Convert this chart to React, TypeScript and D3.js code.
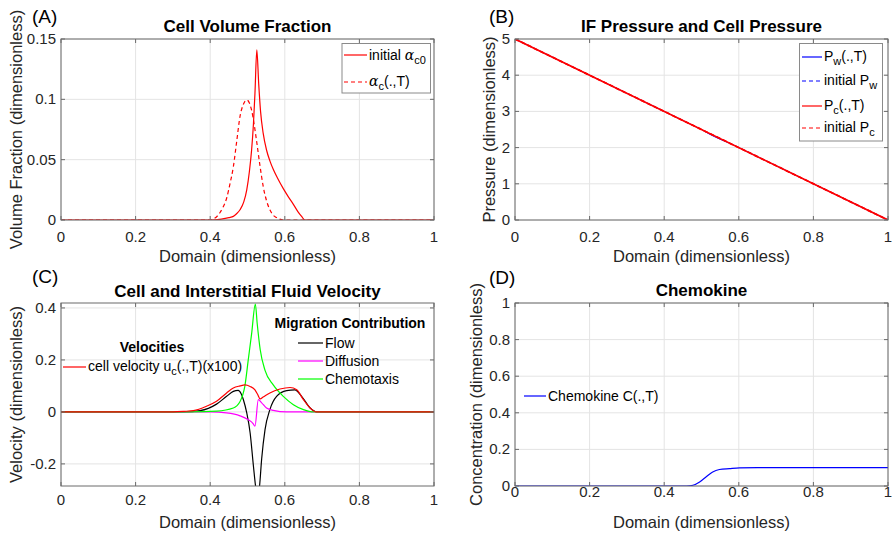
import * as d3 from "d3";
import React from "react";

const FONT = "'Liberation Sans', Arial, Helvetica, sans-serif";

// shared x axis
const xTicks = [0, 0.2, 0.4, 0.6, 0.8, 1];
const xTickLabels = ["0", "0.2", "0.4", "0.6", "0.8", "1"];

// (A) cell volume fraction
const volYTicks = [0, 0.05, 0.1, 0.15];
const volYTickLabels = ["0", "0.05", "0.1", "0.15"];
const alphaInitial: [number, number][] = [
  [0, 0], [0.4, 0], [0.43, 0.0008], [0.45, 0.002], [0.462, 0.003], [0.47, 0.005],
  [0.48, 0.0085], [0.49, 0.015], [0.498, 0.025], [0.505, 0.04], [0.511, 0.058],
  [0.516, 0.08], [0.52, 0.105], [0.525, 0.141], [0.53, 0.113], [0.535, 0.09],
  [0.542, 0.072], [0.551, 0.058], [0.56, 0.049], [0.569, 0.042], [0.58, 0.035],
  [0.596, 0.026], [0.61, 0.019], [0.623, 0.013], [0.635, 0.007], [0.645, 0.003],
  [0.654, 0], [1, 0],
];
const alphaFinal: [number, number][] = [
  [0, 0], [0.4, 0], [0.41, 0.001], [0.426, 0.006], [0.435, 0.011], [0.444, 0.018],
  [0.453, 0.03], [0.462, 0.044], [0.471, 0.065], [0.48, 0.086], [0.489, 0.096],
  [0.498, 0.0995], [0.505, 0.097], [0.511, 0.091], [0.518, 0.079], [0.525, 0.064],
  [0.533, 0.046], [0.542, 0.028], [0.551, 0.016], [0.56, 0.0085], [0.569, 0.004],
  [0.578, 0.002], [0.596, 0], [1, 0],
];

// (B) pressures
const presYTicks = [0, 1, 2, 3, 4, 5];
const presYTickLabels = ["0", "1", "2", "3", "4", "5"];
const pwFinal: [number, number][] = [
  [0, 5], [0.2, 4], [0.4, 3], [0.48, 2.6], [0.5, 2.5], [0.52, 2.38], [0.55, 2.23],
  [0.58, 2.1], [0.6, 2], [0.8, 1], [1, 0],
];
const pwInitial: [number, number][] = [[0, 5], [1, 0]];
const pcFinal: [number, number][] = [[0, 5], [1, 0]];
const pcInitial: [number, number][] = [[0, 5], [1, 0]];

// (C) velocities
const velYTicks = [-0.2, 0, 0.2, 0.4];
const velYTickLabels = ["-0.2", "0", "0.2", "0.4"];
const cellVelocity: [number, number][] = [
  [0, 0], [0.3, 0], [0.33, 0.002], [0.355, 0.005], [0.39, 0.022], [0.417, 0.041],
  [0.444, 0.073], [0.462, 0.092], [0.48, 0.1], [0.493, 0.104], [0.507, 0.098],
  [0.52, 0.085], [0.527, 0.068], [0.534, 0.05], [0.542, 0.057], [0.56, 0.073],
  [0.587, 0.088], [0.614, 0.094], [0.632, 0.085], [0.65, 0.047], [0.668, 0.015],
  [0.685, 0], [1, 0],
];
const flow: [number, number][] = [
  [0, 0], [0.33, 0], [0.373, 0.005], [0.417, 0.03], [0.444, 0.06], [0.462, 0.079],
  [0.475, 0.083], [0.483, 0.07], [0.489, 0.047], [0.498, -0.004], [0.507, -0.08],
  [0.516, -0.21], [0.522, -0.29], [0.527, -0.33], [0.532, -0.29], [0.538, -0.18],
  [0.547, -0.068], [0.56, 0.009], [0.578, 0.06], [0.605, 0.082], [0.627, 0.085],
  [0.645, 0.06], [0.668, 0.015], [0.685, 0], [1, 0],
];
const diffusion: [number, number][] = [
  [0, 0], [0.4, 0], [0.444, -0.004], [0.48, -0.015], [0.502, -0.03], [0.515, -0.045],
  [0.52, -0.055], [0.529, 0.047], [0.538, 0.035], [0.551, 0.015], [0.569, 0.006],
  [0.605, 0], [1, 0],
];
const chemotaxis: [number, number][] = [
  [0, 0], [0.35, 0], [0.417, 0.003], [0.462, 0.015], [0.48, 0.04], [0.493, 0.1],
  [0.502, 0.2], [0.511, 0.3], [0.521, 0.415], [0.526, 0.34], [0.534, 0.24],
  [0.547, 0.16], [0.569, 0.104], [0.596, 0.06], [0.623, 0.028], [0.65, 0.009],
  [0.677, 0], [1, 0],
];

// (D) chemokine
const concYTicks = [0, 0.2, 0.4, 0.6, 0.8, 1];
const concYTickLabels = ["0", "0.2", "0.4", "0.6", "0.8", "1"];
const chemokine: [number, number][] = [
  [0, 0], [0.46, 0], [0.477, 0.004], [0.495, 0.022], [0.512, 0.049], [0.53, 0.077],
  [0.548, 0.09], [0.575, 0.095], [0.602, 0.099], [0.65, 0.1], [1, 0.1],
];

type Series = { data: [number, number][]; color: string; dash?: string; width?: number };

type AxesProps = {
  id: string;
  x0: number; x1: number; y0: number; y1: number;
  yDomain: [number, number];
  yTicks: number[]; yTickLabels: string[];
  series: Series[];
  xTickBaseline: number;
  xLabelBaseline: number;
  yLabel: string; yLabelX: number;
  title: string; titleBaseline: number;
  tag: string; tagX: number; tagBaseline: number;
  children?: React.ReactNode;
};

function Axes(p: AxesProps) {
  const x = d3.scaleLinear().domain([0, 1]).range([p.x0, p.x1]);
  const y = d3.scaleLinear().domain(p.yDomain).range([p.y1, p.y0]);
  const line = d3
    .line<[number, number]>()
    .x((d) => x(d[0]))
    .y((d) => y(d[1]))
    .curve(d3.curveMonotoneX);
  const tl = 4;
  const axisColor = "#6a6a6a";
  const gridColor = "#e4e4e4";
  const textColor = "#262626";
  const midY = (p.y0 + p.y1) / 2;
  return (
    <g fontFamily={FONT}>
      <defs>
        <clipPath id={p.id}>
          <rect x={p.x0} y={p.y0} width={p.x1 - p.x0} height={p.y1 - p.y0} />
        </clipPath>
      </defs>
      {/* grid */}
      {xTicks.map((t, i) => (
        <line key={"gx" + i} x1={x(t)} x2={x(t)} y1={p.y0} y2={p.y1} stroke={gridColor} />
      ))}
      {p.yTicks.map((t, i) => (
        <line key={"gy" + i} x1={p.x0} x2={p.x1} y1={y(t)} y2={y(t)} stroke={gridColor} />
      ))}
      {/* curves */}
      <g clipPath={`url(#${p.id})`}>
        {p.series.map((s, i) => (
          <path
            key={i}
            d={line(s.data) || ""}
            fill="none"
            stroke={s.color}
            strokeWidth={s.width ?? 1.2}
            strokeDasharray={s.dash}
          />
        ))}
      </g>
      {/* box and ticks */}
      <rect x={p.x0} y={p.y0} width={p.x1 - p.x0} height={p.y1 - p.y0} fill="none" stroke={axisColor} />
      {xTicks.map((t, i) => (
        <g key={"tx" + i} stroke={axisColor}>
          <line x1={x(t)} x2={x(t)} y1={p.y1} y2={p.y1 - tl} />
          <line x1={x(t)} x2={x(t)} y1={p.y0} y2={p.y0 + tl} />
        </g>
      ))}
      {p.yTicks.map((t, i) => (
        <g key={"ty" + i} stroke={axisColor}>
          <line x1={p.x0} x2={p.x0 + tl} y1={y(t)} y2={y(t)} />
          <line x1={p.x1} x2={p.x1 - tl} y1={y(t)} y2={y(t)} />
        </g>
      ))}
      {/* tick labels */}
      {xTicks.map((t, i) => (
        <text key={"lx" + i} x={x(t)} y={p.xTickBaseline} fontSize={15} textAnchor="middle" fill={textColor}>
          {xTickLabels[i]}
        </text>
      ))}
      {p.yTicks.map((t, i) => (
        <text key={"ly" + i} x={p.x0 - 5} y={y(t) + 5} fontSize={15} textAnchor="end" fill={textColor}>
          {p.yTickLabels[i]}
        </text>
      ))}
      {/* axis labels */}
      <text x={(p.x0 + p.x1) / 2} y={p.xLabelBaseline} fontSize={16.5} textAnchor="middle" fill={textColor}>
        Domain (dimensionless)
      </text>
      <text
        transform={`translate(${p.yLabelX},${midY}) rotate(-90)`}
        fontSize={16.5}
        textAnchor="middle"
        fill={textColor}
      >
        {p.yLabel}
      </text>
      <text x={(p.x0 + p.x1) / 2} y={p.titleBaseline} fontSize={17} fontWeight="bold" textAnchor="middle" fill="#000">
        {p.title}
      </text>
      <text x={p.tagX} y={p.tagBaseline} fontSize={19} fill="#000">
        {p.tag}
      </text>
      {p.children}
    </g>
  );
}

function LegendLine({ x1, x2, y, color, dash }: { x1: number; x2: number; y: number; color: string; dash?: string }) {
  return <line x1={x1} x2={x2} y1={y} y2={y} stroke={color} strokeWidth={1.2} strokeDasharray={dash} />;
}

export default function App() {
  const dash = "4,3";
  const lg = { fontSize: 14, fill: "#000", fontFamily: FONT } as const;
  return (
    <svg
      width={892}
      height={535}
      style={{ position: "absolute", left: 0, top: 0, background: "#fff" }}
    >
      <Axes
        id="clipA"
        x0={61} x1={434} y0={39} y1={220}
        yDomain={[0, 0.15]}
        yTicks={volYTicks} yTickLabels={volYTickLabels}
        series={[
          { data: alphaInitial, color: "#ff0000" },
          { data: alphaFinal, color: "#ff0000", dash },
        ]}
        xTickBaseline={242} xLabelBaseline={262}
        yLabel="Volume Fraction (dimensionless)" yLabelX={22}
        title="Cell Volume Fraction" titleBaseline={32}
        tag="(A)" tagX={32} tagBaseline={23}
      >
        <rect x={342} y={43.5} width={88.5} height={49.5} fill="#fff" stroke="#8a8a8a" />
        <LegendLine x1={344} x2={367} y={55} color="#ff0000" />
        <text x={369} y={60} {...lg}>
          initial <tspan fontStyle="italic" fontFamily="'DejaVu Serif', serif">α</tspan>
          <tspan dy={4} fontSize={11}>c0</tspan>
        </text>
        <LegendLine x1={344} x2={367} y={82} color="#ff0000" dash={dash} />
        <text x={369} y={86} {...lg}>
          <tspan fontStyle="italic" fontFamily="'DejaVu Serif', serif">α</tspan>
          <tspan dy={4} fontSize={11}>c</tspan>
          <tspan dy={-4}>(.,T)</tspan>
        </text>
      </Axes>

      <Axes
        id="clipB"
        x0={515} x1={888} y0={39} y1={220}
        yDomain={[0, 5]}
        yTicks={presYTicks} yTickLabels={presYTickLabels}
        series={[
          { data: pwFinal, color: "#0000ff", width: 1 },
          { data: pwInitial, color: "#0000ff", dash, width: 1 },
          { data: pcFinal, color: "#ff0000", width: 1.7 },
          { data: pcInitial, color: "#ff0000", dash, width: 1.7 },
        ]}
        xTickBaseline={242} xLabelBaseline={262}
        yLabel="Pressure (dimensionless)" yLabelX={495}
        title="IF Pressure and Cell Pressure" titleBaseline={32}
        tag="(B)" tagX={489} tagBaseline={23}
      >
        <rect x={799.5} y={43.5} width={83} height={97.5} fill="#fff" stroke="#8a8a8a" />
        <LegendLine x1={802} x2={822} y={57} color="#0000ff" />
        <text x={824} y={61} {...lg}>
          P<tspan dy={4} fontSize={11}>w</tspan><tspan dy={-4}>(.,T)</tspan>
        </text>
        <LegendLine x1={802} x2={822} y={81} color="#0000ff" dash={dash} />
        <text x={824} y={85} {...lg}>
          initial P<tspan dy={4} fontSize={11}>w</tspan>
        </text>
        <LegendLine x1={802} x2={822} y={106} color="#ff0000" />
        <text x={824} y={110} {...lg}>
          P<tspan dy={4} fontSize={11}>c</tspan><tspan dy={-4}>(.,T)</tspan>
        </text>
        <LegendLine x1={802} x2={822} y={128} color="#ff0000" dash={dash} />
        <text x={824} y={132} {...lg}>
          initial P<tspan dy={4} fontSize={11}>c</tspan>
        </text>
      </Axes>

      <Axes
        id="clipC"
        x0={61} x1={434} y0={303} y1={486}
        yDomain={[-0.285, 0.419]}
        yTicks={velYTicks} yTickLabels={velYTickLabels}
        series={[
          { data: flow, color: "#000000" },
          { data: diffusion, color: "#ff00ff" },
          { data: chemotaxis, color: "#00ff00" },
          { data: cellVelocity, color: "#ff0000" },
        ]}
        xTickBaseline={505} xLabelBaseline={528}
        yLabel="Velocity (dimensionless)" yLabelX={22}
        title="Cell and Interstitial Fluid Velocity" titleBaseline={297}
        tag="(C)" tagX={32} tagBaseline={283}
      >
        <text x={152} y={352} {...lg} fontWeight="bold" textAnchor="middle">Velocities</text>
        <LegendLine x1={63} x2={86} y={367} color="#ff0000" />
        <text x={88} y={371} {...lg}>
          cell velocity u<tspan dy={4} fontSize={11}>c</tspan><tspan dy={-4}>(.,T)(x100)</tspan>
        </text>
        <text x={350} y={328} {...lg} fontWeight="bold" textAnchor="middle">Migration Contribution</text>
        <LegendLine x1={298} x2={323} y={343} color="#000000" />
        <text x={325} y={348} {...lg}>Flow</text>
        <LegendLine x1={298} x2={323} y={361} color="#ff00ff" />
        <text x={325} y={366} {...lg}>Diffusion</text>
        <LegendLine x1={298} x2={323} y={379} color="#00ff00" />
        <text x={325} y={384} {...lg}>Chemotaxis</text>
      </Axes>

      <Axes
        id="clipD"
        x0={515} x1={888} y0={303} y1={486}
        yDomain={[0, 1]}
        yTicks={concYTicks} yTickLabels={concYTickLabels}
        series={[{ data: chemokine, color: "#0000ff" }]}
        xTickBaseline={497} xLabelBaseline={528}
        yLabel="Concentration (dimensionless)" yLabelX={482}
        title="Chemokine" titleBaseline={296}
        tag="(D)" tagX={489} tagBaseline={284}
      >
        <LegendLine x1={524} x2={546} y={396} color="#0000ff" />
        <text x={548} y={401} {...lg}>Chemokine C(.,T)</text>
      </Axes>
    </svg>
  );
}
